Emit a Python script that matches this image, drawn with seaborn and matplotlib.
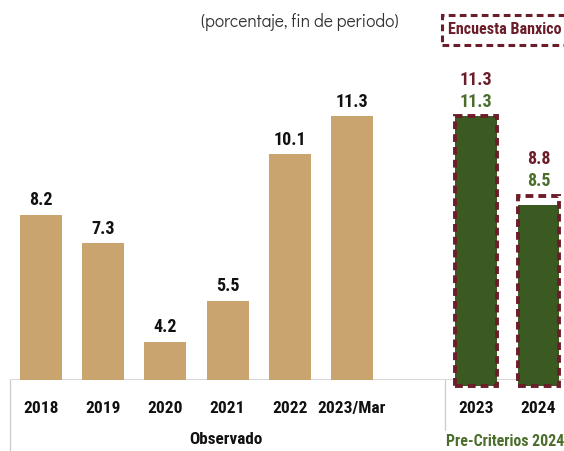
import matplotlib
matplotlib.use("Agg")
import matplotlib.pyplot as plt
from matplotlib.lines import Line2D
from matplotlib.patches import Rectangle
import pandas as pd
import seaborn as sns

# Observed inflation (percent, end of period)
observado_labels = ["2018", "2019", "2020", "2021", "2022", "2023/Mar"]
observado_values = [8.2, 7.3, 4.2, 5.5, 10.1, 11.3]

# Forecasts
pronostico_labels = ["2023", "2024"]
precriterios_values = [11.3, 8.5]
encuesta_values = [11.3, 8.8]

TAN = "#C9A46F"
GREEN = "#3A5A22"
GREEN_TXT = "#4B6E2C"
MAROON = "#6B1E29"
GRID = "#cfcfcf"

sns.set_theme(style="white")
plt.rcParams["font.family"] = ["Roboto Condensed", "DejaVu Sans"]

fig = plt.figure(figsize=(5.64, 4.51), dpi=100)
ax = fig.add_axes([10 / 564, 71 / 451, 554 / 564, 380 / 451])

obs_pos = list(range(len(observado_labels)))
fc_pos = [7, 8]

df_obs = pd.DataFrame({"pos": obs_pos, "valor": observado_values})
df_pre = pd.DataFrame({"pos": fc_pos, "valor": precriterios_values})
df_enc = pd.DataFrame({"pos": fc_pos, "valor": encuesta_values})

BAR_W = 0.675
sns.barplot(data=df_obs, x="pos", y="valor", native_scale=True, color=TAN,
            saturation=1, width=BAR_W, errorbar=None, ax=ax, linewidth=0)
n0 = len(ax.patches)
sns.barplot(data=df_pre, x="pos", y="valor", native_scale=True, color=GREEN,
            saturation=1, width=BAR_W, errorbar=None, ax=ax, linewidth=0)
n1 = len(ax.patches)
sns.barplot(data=df_enc, x="pos", y="valor", native_scale=True, color=MAROON,
            saturation=1, width=BAR_W, errorbar=None, ax=ax, fill=False)
n2 = len(ax.patches)

YMIN = 3.0
BOTTOM = 2.8
# forecast bars run slightly below the baseline
for p in ax.patches[n0:n2]:
    top = p.get_y() + p.get_height()
    p.set_y(BOTTOM)
    p.set_height(top - BOTTOM)
    p.set_clip_on(False)
for p in ax.patches[n1:n2]:
    p.set_facecolor("none")
    p.set_edgecolor(MAROON)
    p.set_linewidth(2.8)
    p.set_linestyle((0, (2.0, 1.3)))
    p.set_zorder(4)

ax.set_xlim(-0.5, 8.41)
ax.set_ylim(YMIN, YMIN + 380 / 31.8)
ax.axhline(YMIN, color=GRID, lw=1.2, zorder=0.5)
for s in ax.spines.values():
    s.set_visible(False)
ax.set_yticks([])
ax.set_xlabel("")
ax.set_ylabel("")

ax.set_xticks(obs_pos + fc_pos)
ax.set_xticklabels(observado_labels + pronostico_labels, fontsize=12.5,
                   fontweight="bold", color="#111111")
ax.tick_params(axis="x", length=0, pad=15)

# value labels
for x, v in zip(obs_pos, observado_values):
    ax.annotate(f"{v:.1f}", xy=(x, v), xytext=(0, 4), textcoords="offset points",
                ha="center", va="bottom", fontsize=13, fontweight="bold",
                color="#111111")
for x, pre, enc in zip(fc_pos, precriterios_values, encuesta_values):
    top = max(pre, enc)
    ax.annotate(f"{pre:.1f}", xy=(x, top), xytext=(0, 4), textcoords="offset points",
                ha="center", va="bottom", fontsize=13, fontweight="bold",
                color=GREEN_TXT)
    ax.annotate(f"{enc:.1f}", xy=(x, top), xytext=(0, 19.5), textcoords="offset points",
                ha="center", va="bottom", fontsize=13, fontweight="bold",
                color=MAROON)

# separators below the baseline
fig.add_artist(Line2D([10 / 564, 10 / 564], [0, 71 / 451], color=GRID, lw=1))
fig.add_artist(Line2D([445 / 564, 445 / 564], [21 / 451, 71 / 451], color=GRID, lw=1))

# group labels
fig.text(226 / 564, 1 - 440 / 451, "Observado", ha="center", va="center",
         fontsize=12.3, fontweight="bold", color="#111111")
fig.text(505 / 564, 1 - 441 / 451, "Pre-Criterios 2024", ha="center", va="center",
         fontsize=11.4, fontweight="bold", color=GREEN_TXT)

# subtitle
fig.text(300 / 564, 1 - 22 / 451, "(porcentaje, fin de periodo)", ha="center",
         va="center", fontsize=12.5, color="#333333",
         family=["Didact Gothic", "DejaVu Sans"])

# survey legend box
fig.add_artist(Rectangle((442 / 564, (451 - 45) / 451), 140 / 564, 30 / 451,
                         transform=fig.transFigure, fill=False, edgecolor=MAROON,
                         lw=2.2, linestyle=(0, (2.2, 1.4)), clip_on=False))
fig.text(505 / 564, 1 - 30 / 451, "Encuesta Banxico", ha="center", va="center",
         fontsize=11.6, fontweight="bold", color=MAROON)

fig.savefig("out.png", dpi=100)
